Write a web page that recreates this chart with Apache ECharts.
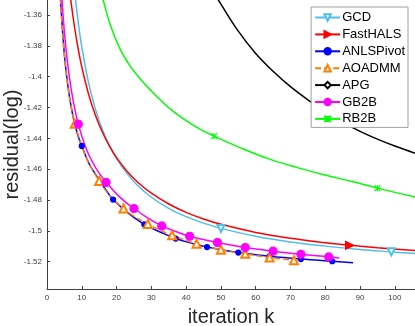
<!DOCTYPE html>
<html>
<head>
<meta charset="utf-8">
<script src="https://cdn.jsdelivr.net/npm/echarts@6/dist/echarts.min.js"></script>
<style>
  html, body { margin: 0; padding: 0; background: #fff; }
  #chart { width: 415px; height: 326px; }
</style>
</head>
<body>
<div id="chart"></div>
<script>
// tick labels
const xTicks = [0, 10, 20, 30, 40, 50, 60, 70, 80, 90, 100];
const yTicks = [-1.52, -1.5, -1.48, -1.46, -1.44, -1.42, -1.4, -1.38, -1.36];

const names = ['GCD', 'FastHALS', 'ANLSPivot', 'AOADMM', 'APG', 'GB2B', 'RB2B'];

// GCD
const gcdK = [7, 8, 9, 10, 12, 14, 16, 18, 20, 23, 26, 30, 35, 40, 45, 50, 60, 70, 80, 90, 99, 106];
const gcdY = [-1.3213, -1.3458, -1.3651, -1.3807, -1.4045, -1.4217, -1.4348, -1.4450, -1.4532, -1.4629, -1.4704, -1.4782, -1.4854, -1.4908, -1.4950, -1.4984, -1.5035, -1.5072, -1.5099, -1.5121, -1.5136, -1.5147];
const gcdMarks = [50, 99];

// FastHALS
const halsK = [6, 7, 8, 9, 10, 12, 14, 16, 18, 20, 23, 26, 30, 35, 40, 45, 50, 60, 70, 80, 87, 95, 106];
const halsY = [-1.3336, -1.3531, -1.3691, -1.3824, -1.3937, -1.4117, -1.4255, -1.4364, -1.4452, -1.4525, -1.4613, -1.4683, -1.4756, -1.4826, -1.4880, -1.4923, -1.4957, -1.5010, -1.5048, -1.5077, -1.5094, -1.5110, -1.5128];
const halsMarks = [87];

// ANLSPivot
const anlsK = [3.5, 4, 5, 6, 7, 8, 9, 10, 12, 15, 17, 19, 23, 28, 33, 37, 42, 46, 55, 64, 73, 82, 88];
const anlsY = [-1.3314, -1.3544, -1.3857, -1.4060, -1.4203, -1.4309, -1.4390, -1.4449, -1.4560, -1.4670, -1.4737, -1.4797, -1.4878, -1.4958, -1.5012, -1.5050, -1.5083, -1.5105, -1.5141, -1.5165, -1.5183, -1.5197, -1.5206];
const anlsMarks = [10, 19, 28, 37, 46, 55, 64, 73, 82];

// AOADMM
const aoK = [3.5, 4, 5, 6, 7, 8, 10, 12, 15, 18, 22, 25, 29, 32, 36, 43, 50, 57, 64, 71, 72];
const aoY = [-1.3314, -1.3544, -1.3857, -1.4060, -1.4203, -1.4305, -1.4449, -1.4560, -1.4676, -1.4770, -1.4855, -1.4905, -1.4955, -1.4990, -1.5029, -1.5083, -1.5122, -1.5149, -1.5173, -1.5191, -1.5193];
const aoMarks = [8, 15, 22, 29, 36, 43, 50, 57, 64, 71];

// APG
const apgK = [48, 50, 55, 60, 65, 70, 75, 80, 85, 90, 95, 100, 106];
const apgY = [-1.3455, -1.3530, -1.3705, -1.3850, -1.3965, -1.4065, -1.4150, -1.4225, -1.4295, -1.4355, -1.4405, -1.4450, -1.4498];
const apgMarks = [];

// GB2B
const gbK = [4, 5, 6, 7, 8, 9, 11, 13, 15, 17, 21, 25, 29, 33, 37, 41, 49, 57, 65, 73, 81, 84];
const gbY = [-1.3395, -1.3710, -1.3928, -1.4089, -1.4211, -1.4308, -1.4451, -1.4552, -1.4626, -1.4686, -1.4783, -1.4855, -1.4917, -1.4968, -1.5004, -1.5035, -1.5076, -1.5108, -1.5132, -1.5152, -1.5169, -1.5176];
const gbMarks = [9, 17, 25, 33, 41, 49, 57, 65, 73, 81];

// RB2B
const rbK = [15, 16, 18, 21, 24, 27, 30, 33, 36, 40, 44, 48, 56, 64, 72, 80, 88, 95, 106];
const rbY = [-1.3400, -1.3490, -1.3650, -1.3820, -1.3935, -1.4020, -1.4093, -1.4160, -1.4220, -1.4285, -1.4340, -1.4386, -1.4465, -1.4535, -1.4590, -1.4638, -1.4682, -1.4723, -1.4782];
const rbMarks = [48, 95];

function pts(ks, ys, marks) {
    return ks.map((k, i) => marks.includes(k) ? [k, ys[i]] : { value: [k, ys[i]], symbol: 'none' });
}

function line(name, ks, ys, marks, color, symbol, size, extra) {
    return Object.assign({
        name: name,
        type: 'line',
        data: pts(ks, ys, marks),
        smooth: 0.4,
        symbol: symbol,
        symbolSize: size,
        showSymbol: true,
        color: color,
        lineStyle: { color: color, width: 1.5 },
        itemStyle: { color: color, borderColor: color, borderWidth: 1.2 },
        emphasis: { disabled: true }
    }, extra || {});
}

const font = 'Liberation Sans, Arial, sans-serif';

const chart = echarts.init(document.getElementById('chart'), null, { renderer: 'canvas' });

chart.setOption({
    animation: false,
    backgroundColor: '#fff',
    textStyle: { fontFamily: font },
    grid: { left: 47, right: 0, top: 0, bottom: 37, outerBoundsMode: 'none', containLabel: false },
    legend: {
        orient: 'vertical',
        right: 7,
        top: 7,
        data: names,
        backgroundColor: '#fff',
        borderColor: '#a0a0a0',
        borderWidth: 1,
        borderRadius: 0,
        padding: [4, 3, 2, 3],
        itemWidth: 25,
        itemHeight: 8,
        itemGap: 3.9,
        textStyle: { fontSize: 13, color: '#000', fontFamily: font, padding: [0, 0, 0, -3] }
    },
    xAxis: {
        type: 'value',
        min: 0,
        max: 105.8,
        name: 'iteration k',
        nameLocation: 'middle',
        nameGap: 18,
        nameMoveOverlap: false,
        nameTextStyle: { fontSize: 20, color: '#262626', fontFamily: font },
        splitLine: { show: false },
        axisLine: { lineStyle: { color: '#404040', width: 1 } },
        axisTick: { inside: true, length: 3, customValues: xTicks, lineStyle: { color: '#404040' } },
        axisLabel: { customValues: xTicks, fontSize: 8, color: '#404040', margin: 5 }
    },
    yAxis: {
        type: 'value',
        min: -1.5377,
        max: -1.3503,
        name: 'residual(log)',
        nameLocation: 'middle',
        nameRotate: 90,
        nameGap: 25,
        nameMoveOverlap: false,
        nameTextStyle: { fontSize: 20, color: '#262626', fontFamily: font },
        splitLine: { show: false },
        axisLine: { show: true, lineStyle: { color: '#404040', width: 1 } },
        axisTick: { show: true, inside: true, length: 3, customValues: yTicks, lineStyle: { color: '#404040' } },
        axisLabel: { customValues: yTicks, fontSize: 8, color: '#404040', margin: 5 }
    },
    series: [
        line('GCD', gcdK, gcdY, gcdMarks, '#4DBEEE', 'emptyTriangle', 7, { symbolRotate: 180 }),
        line('FastHALS', halsK, halsY, halsMarks, '#FF0000', 'triangle', 8, { symbolRotate: -90 }),
        line('ANLSPivot', anlsK, anlsY, anlsMarks, '#0000FF', 'circle', 5),
        line('AOADMM', aoK, aoY, aoMarks, '#FF8000', 'emptyTriangle', 8, {
            lineStyle: { color: '#FF8000', width: 1.5, type: [6, 3] }
        }),
        line('APG', apgK, apgY, apgMarks, '#000000', 'emptyDiamond', 7),
        line('GB2B', gbK, gbY, gbMarks, '#FF00FF', 'circle', 8),
        line('RB2B', rbK, rbY, rbMarks, '#00FF00', 'path://M0,0L10,10M10,0L0,10M5,0L5,10', 6)
    ]
});

window.addEventListener('resize', () => {
    chart.resize();
});
</script>
</body>
</html>
